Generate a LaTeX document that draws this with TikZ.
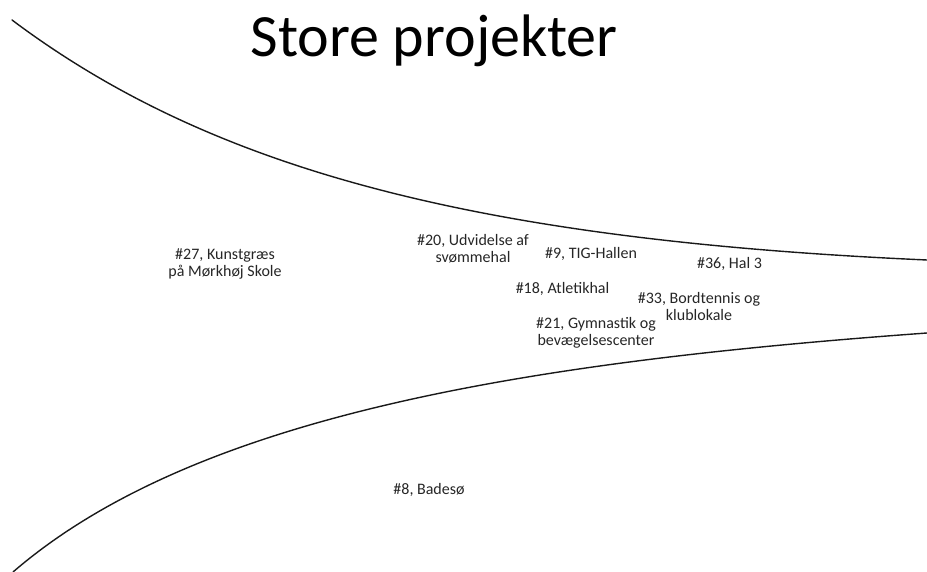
\documentclass[tikz,border=0pt]{standalone}
\usepackage{fontspec}
\setmainfont{Carlito}
\begin{document}
\begin{tikzpicture}[x=1pt,y=-1pt,
  lbl/.style={align=center,inner sep=0pt,text=black!85,font=\fontsize{16}{17}\selectfont},
  ttl/.style={inner sep=0pt,anchor=base,font=\fontsize{60}{66}\selectfont},
  funnel/.style={line width=1.4pt,black!90,line cap=round}]
\useasboundingbox (0,0) rectangle (927,572);
\node[ttl] (title) at (434,57) {Store projekter};
\coordinate (u0) at (12,20);
\coordinate (u1) at (927,260);
\coordinate (l0) at (13,572);
\coordinate (l1) at (927,333);
\draw[funnel] (u0) .. controls (212,170) and (477,240) .. (u1);
\draw[funnel] (l0) .. controls (195,415) and (527,362) .. (l1);
\node[lbl] (p27) at (225,263.5) {\#27, Kunstgræs\\på Mørkhøj Skole};
\node[lbl] (p20) at (473,249) {\#20, Udvidelse af\\svømmehal};
\node[lbl] (p9) at (591,254) {\#9, TIG-Hallen};
\node[lbl] (p36) at (729.5,264) {\#36, Hal 3};
\node[lbl] (p18) at (562.5,289) {\#18, Atletikhal};
\node[lbl] (p33) at (699,306.5) {\#33, Bordtennis og\\klublokale};
\node[lbl] (p21) at (596,333) {\#21, Gymnastik og\\bevægelsescenter};
\node[lbl] (p8) at (429,490) {\#8, Badesø};
\end{tikzpicture}
\end{document}
